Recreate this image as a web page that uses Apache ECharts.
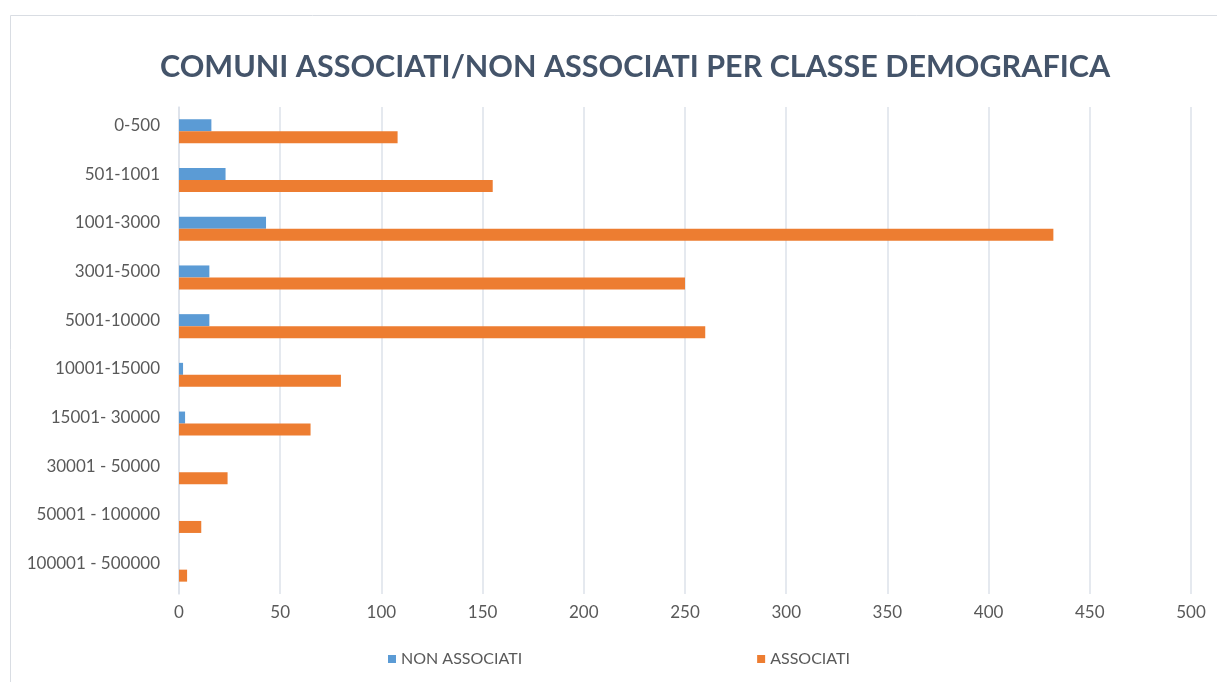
<!DOCTYPE html>
<html>
<head>
<meta charset="utf-8">
<script src="https://cdn.jsdelivr.net/npm/echarts@6/dist/echarts.min.js"></script>
<style>html,body{margin:0;padding:0;background:#fff;}#c{width:1217px;height:682px;}</style>
</head>
<body>
<div id="c"></div>
<script>
const categories = ['0-500','501-1001','1001-3000','3001-5000','5001-10000','10001-15000','15001- 30000','30001 - 50000','50001 - 100000','100001 - 500000'];
const nonAssociati = [16, 23, 43, 15, 15, 2, 3, 0, 0, 0];
const associati = [108, 155, 432, 250, 260, 80, 65, 24, 11, 4];
const seriesNames = ['NON ASSOCIATI', 'ASSOCIATI'];
const xTicks = {min: 0, max: 500, interval: 50};

const chart = echarts.init(document.getElementById('c'));
const font = 'Lato, "Open Sans", sans-serif';
chart.setOption({
  animation: false,
  graphic: [{
    type: 'rect', left: 8, top: 13,
    shape: {width: 1260, height: 700},
    style: {fill: 'none', stroke: '#d9dde3', lineWidth: 1}
  }],
  title: {
    text: 'COMUNI ASSOCIATI/NON ASSOCIATI PER CLASSE DEMOGRAFICA',
    left: 155, top: 47,
    textStyle: {fontFamily: font, fontSize: 30.5, fontWeight: 'bold', color: '#44546A'}
  },
  legend: {
    data: seriesNames,
    left: 383, top: 646,
    itemGap: 235, itemWidth: 8, itemHeight: 8, icon: 'rect',
    textStyle: {fontFamily: font, fontSize: 16, color: '#595959'}
  },
  grid: {left: 179, right: 26, top: 107, bottom: 88, containLabel: false},
  xAxis: {
    type: 'value', min: xTicks.min, max: xTicks.max, interval: xTicks.interval,
    axisLine: {show: false}, axisTick: {show: false},
    splitLine: {lineStyle: {color: '#dde2ea', width: 1.5}},
    axisLabel: {fontFamily: font, fontSize: 17, color: '#595959', margin: 10}
  },
  yAxis: {
    type: 'category', data: categories, inverse: true,
    axisLine: {show: true, lineStyle: {color: '#dde2ea', width: 1.5}}, axisTick: {show: false},
    axisLabel: {fontFamily: font, fontSize: 17, color: '#595959', margin: 19,
                verticalAlign: 'bottom', lineHeight: 12}
  },
  series: [
    {name: seriesNames[0], type: 'bar', data: nonAssociati, barWidth: 12, barGap: '0%',
     itemStyle: {color: '#5B9BD5'}},
    {name: seriesNames[1], type: 'bar', data: associati, barWidth: 12, barGap: '0%',
     itemStyle: {color: '#ED7D31'}}
  ]
});
</script>
</body>
</html>
